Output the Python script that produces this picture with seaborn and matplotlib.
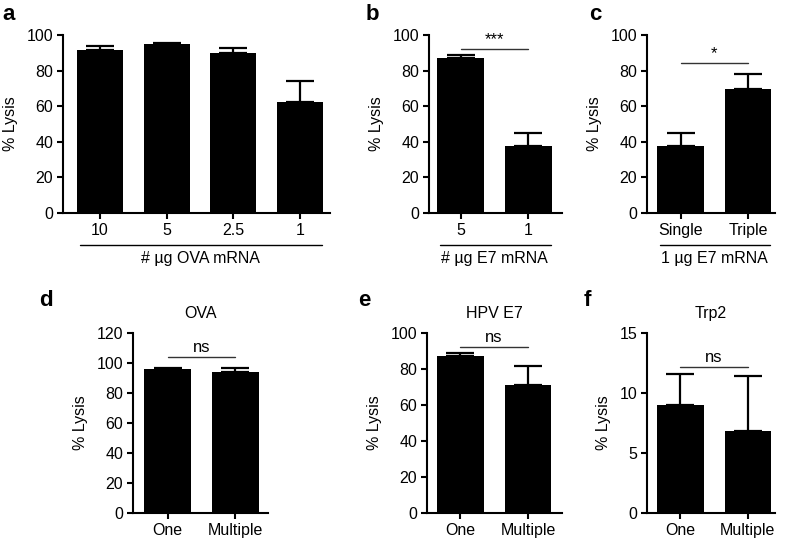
# -*- coding: utf-8 -*-
"""
plot.py

Lysis bar charts (panels a-f): mean % lysis with upper SEM bars,
significance brackets and group labels under the x ticks.
"""

import pandas as pd
import matplotlib.pyplot as plt
import seaborn as sns

###############################################################################
# 1) Data (read off the reference figure)
###############################################################################
a_labels = ["10", "5", "2.5", "1"]
a_means = [91.6, 95.0, 89.7, 62.3]
a_err = [2.4, 0.7, 2.8, 11.9]

b_labels = ["5", "1"]
b_means = [87.0, 37.5]
b_err = [1.8, 7.5]

c_labels = ["Single", "Triple"]
c_means = [37.4, 69.8]
c_err = [7.5, 8.3]

d_labels = ["One", "Multiple"]
d_means = [96.1, 94.3]
d_err = [0.4, 2.3]

e_labels = ["One", "Multiple"]
e_means = [87.2, 71.0]
e_err = [1.7, 10.4]

f_labels = ["One", "Multiple"]
f_means = [9.0, 6.8]
f_err = [2.6, 4.6]

###############################################################################
# 2) Style
###############################################################################
sns.set_style("ticks")
plt.rcParams["font.family"] = ["Liberation Sans", "DejaVu Sans"]
plt.rcParams["font.size"] = 11.5
plt.rcParams["text.color"] = "black"
plt.rcParams["axes.labelcolor"] = "black"
plt.rcParams["axes.linewidth"] = 1.5
plt.rcParams["xtick.major.width"] = 1.5
plt.rcParams["ytick.major.width"] = 1.5
plt.rcParams["xtick.major.size"] = 4
plt.rcParams["ytick.major.size"] = 4
plt.rcParams["xtick.major.pad"] = 3
plt.rcParams["ytick.major.pad"] = 3
plt.rcParams["xtick.labelsize"] = 11.5
plt.rcParams["ytick.labelsize"] = 11.5
plt.rcParams["xtick.color"] = "black"
plt.rcParams["ytick.color"] = "black"
plt.rcParams["axes.edgecolor"] = "black"

fig = plt.figure(figsize=(7.85, 5.4), dpi=100)

W, H = 785.0, 540.0


def make_ax(x0, x1, ytop, ybot):
    # pixel box -> figure fraction
    return fig.add_axes([x0 / W, 1 - ybot / H, (x1 - x0) / W, (ybot - ytop) / H])


def bar_panel(ax, labels, means, err, ymax, yticks, xlim):
    df = pd.DataFrame({"group": labels, "lysis": means})
    sns.barplot(data=df, x="group", y="lysis", order=labels, color="black",
                saturation=1, width=0.69, errorbar=None, linewidth=0, ax=ax)
    ax.errorbar(range(len(labels)), means, yerr=[[0] * len(err), err],
                fmt="none", ecolor="black", elinewidth=1.6, capsize=10,
                capthick=1.6, zorder=3, clip_on=False)
    ax.set_ylim(0, ymax)
    ax.set_yticks(yticks)
    ax.set_xlim(*xlim)
    ax.set_ylabel("% Lysis", labelpad=6)
    ax.set_xlabel("")
    sns.despine(ax=ax)


def add_sig(ax, y, text):
    ax.plot([0, 1], [y, y], color="#333333", lw=1, clip_on=False)
    ax.annotate(text, xy=(0.5, y), xytext=(0, 1.5), textcoords="offset points",
                ha="center", va="bottom", fontsize=12, annotation_clip=False)


def add_group(ax, n, text):
    ax.plot([-0.3, n - 1 + 0.33], [-0.18, -0.18], color="black", lw=1,
            transform=ax.get_xaxis_transform(), clip_on=False)
    ax.text((n - 1) / 2.0, -0.258, text, ha="center", va="center",
            transform=ax.get_xaxis_transform(), fontsize=11.5)


###############################################################################
# 3) Top row
###############################################################################
ax_a = make_ax(63, 330, 35, 213)
bar_panel(ax_a, a_labels, a_means, a_err, 100, range(0, 101, 20), (-0.555, 3.45))
add_group(ax_a, len(a_labels), "# \u00b5g OVA mRNA")

ax_b = make_ax(429, 562, 35, 213)
bar_panel(ax_b, b_labels, b_means, b_err, 100, range(0, 101, 20), (-0.47, 1.5))
add_sig(ax_b, 92, "***")
add_group(ax_b, len(b_labels), "# \u00b5g E7 mRNA")

ax_c = make_ax(647, 775, 35, 213)
bar_panel(ax_c, c_labels, c_means, c_err, 100, range(0, 101, 20), (-0.5, 1.4))
add_sig(ax_c, 84, "*")
add_group(ax_c, len(c_labels), "1 \u00b5g E7 mRNA")

###############################################################################
# 4) Bottom row
###############################################################################
ax_d = make_ax(133, 268, 333, 513)
bar_panel(ax_d, d_labels, d_means, d_err, 120, range(0, 121, 20), (-0.51, 1.48))
add_sig(ax_d, 104, "ns")
ax_d.set_title("OVA", fontsize=11.5, pad=11)

ax_e = make_ax(427, 562, 333, 513)
bar_panel(ax_e, e_labels, e_means, e_err, 100, range(0, 101, 20), (-0.49, 1.5))
add_sig(ax_e, 92, "ns")
ax_e.set_title("HPV E7", fontsize=11.5, pad=11)

ax_f = make_ax(647, 775, 333, 513)
bar_panel(ax_f, f_labels, f_means, f_err, 15, [0, 5, 10, 15], (-0.49, 1.4))
add_sig(ax_f, 12.2, "ns")
ax_f.set_title("Trp2", fontsize=11.5, pad=11)

###############################################################################
# 5) Panel letters
###############################################################################
for letter, px, py in [("a", 2, 15), ("b", 366, 15), ("c", 589, 15),
                       ("d", 39, 300), ("e", 358, 300), ("f", 584, 300)]:
    fig.text(px / W, 1 - py / H, letter, fontsize=16, fontweight="bold",
             ha="left", va="center")

fig.savefig("out.png", dpi=100)
